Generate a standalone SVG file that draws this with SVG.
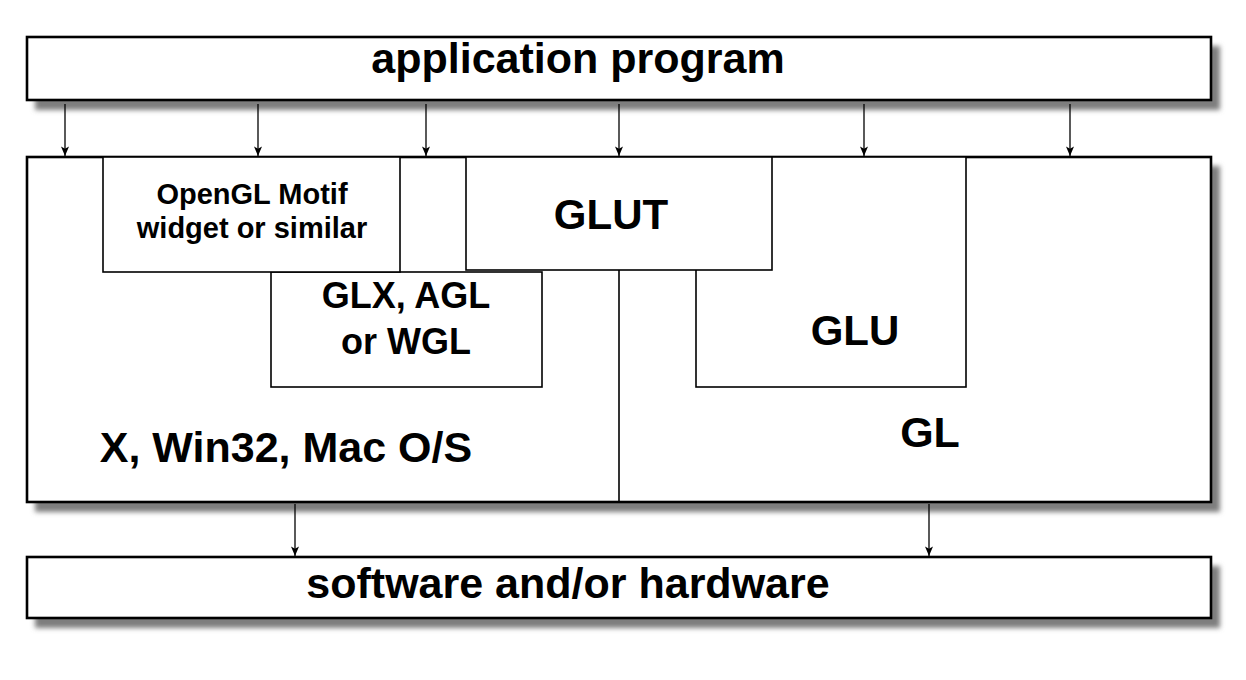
<svg xmlns="http://www.w3.org/2000/svg" width="1246" height="680" viewBox="0 0 1246 680">
<style>
.outer{fill:#fff;stroke:#000;stroke-width:2.6}
.inner{fill:#fff;stroke:#000;stroke-width:1.6}
.shadow{fill:#7e7e7e;stroke:none}
.t{font-family:"Liberation Sans",Arial,Helvetica,sans-serif;font-weight:bold;fill:#000;text-anchor:middle}
.c{stroke:#000;stroke-width:1.3;fill:none}
</style>
<defs>
<filter id="blur" x="-3%" y="-20%" width="106%" height="140%">
<feGaussianBlur stdDeviation="2.6"/>
</filter>
<marker id="ah" viewBox="0 0 12 10" refX="12" refY="5" markerWidth="11" markerHeight="8" markerUnits="userSpaceOnUse" orient="auto">
<path d="M0,0 L12,5 L0,10 L3,5 Z" fill="#000"/>
</marker>
</defs>

<g id="app">
<rect class="shadow" x="35" y="46" width="1185" height="64" filter="url(#blur)"/>
<rect class="outer" x="27" y="37" width="1184" height="63"/>
<text class="t" x="578" y="73" font-size="43">application program</text>
</g>

<g id="base">
<rect class="shadow" x="35" y="166" width="1185" height="346" filter="url(#blur)"/>
<rect class="outer" x="27" y="157" width="1184" height="345"/>
<line x1="619" y1="270" x2="619" y2="502" stroke="#000" stroke-width="1.6"/>
</g>

<g id="os">
<text class="t" x="286" y="462" font-size="43">X, Win32, Mac O/S</text>
</g>

<g id="gl">
<text class="t" x="930" y="447" font-size="43">GL</text>
</g>

<g id="glu">
<rect class="inner" x="696" y="157" width="270" height="230"/>
<text class="t" x="855" y="345" font-size="42">GLU</text>
</g>

<g id="glx">
<rect class="inner" x="271" y="272" width="271" height="115"/>
<text class="t" x="406" y="308" font-size="36">GLX, AGL</text>
<text class="t" x="406" y="354" font-size="36">or WGL</text>
</g>

<g id="motif">
<rect class="inner" x="103" y="157" width="297" height="115"/>
<text class="t" x="252" y="204" font-size="29">OpenGL Motif</text>
<text class="t" x="252" y="238" font-size="29">widget or similar</text>
</g>

<g id="glut">
<rect class="inner" x="466" y="157" width="306" height="113"/>
<text class="t" x="611" y="229" font-size="42">GLUT</text>
</g>

<g id="hw">
<rect class="shadow" x="35" y="566" width="1185" height="62" filter="url(#blur)"/>
<rect class="outer" x="27" y="557" width="1184" height="61"/>
<text class="t" x="568" y="598" font-size="43">software and/or hardware</text>
</g>

<g id="connectors">
<line class="c" x1="65" y1="104" x2="65" y2="156" marker-end="url(#ah)"/>
<line class="c" x1="258" y1="104" x2="258" y2="156" marker-end="url(#ah)"/>
<line class="c" x1="426" y1="104" x2="426" y2="156" marker-end="url(#ah)"/>
<line class="c" x1="619" y1="104" x2="619" y2="156" marker-end="url(#ah)"/>
<line class="c" x1="864" y1="104" x2="864" y2="156" marker-end="url(#ah)"/>
<line class="c" x1="1070" y1="104" x2="1070" y2="156" marker-end="url(#ah)"/>
<line class="c" x1="295" y1="504" x2="295" y2="556" marker-end="url(#ah)"/>
<line class="c" x1="929" y1="504" x2="929" y2="556" marker-end="url(#ah)"/>
</g>
</svg>
